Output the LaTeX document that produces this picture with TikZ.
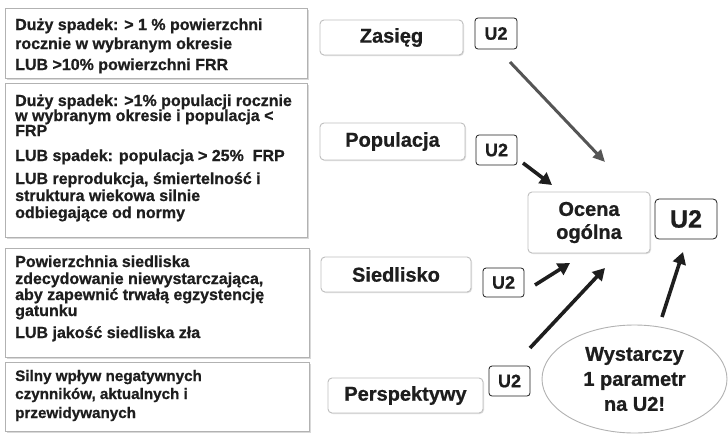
\documentclass[tikz,border=0pt]{standalone}
\usepackage{fontspec}
\setmainfont{Liberation Sans}[BoldFeatures={FakeBold=0.8}]
\usetikzlibrary{arrows.meta,shapes.geometric,shadows}
\definecolor{txt}{HTML}{1E1E1E}
\definecolor{garr}{HTML}{555555}
\begin{document}
\begin{tikzpicture}[x=1pt,y=-1pt,
 lbox/.style={draw=gray!60, line width=0.9pt, fill=white, inner sep=0pt, anchor=north west,
   drop shadow={shadow xshift=1.2pt, shadow yshift=-1.2pt, fill=gray!30, opacity=1}},
 ltxt/.style={anchor=base west, inner sep=0pt, text=txt, font=\bfseries\fontsize{16}{16}\selectfont},
 ltxtb/.style={ltxt, font=\bfseries\fontsize{15.2}{15.2}\selectfont},
 mbox/.style={draw=gray!50, line width=0.9pt, rounded corners=4pt, fill=white, inner sep=0pt,
   text=txt, font=\bfseries\fontsize{20}{20}\selectfont,
   drop shadow={shadow xshift=1pt, shadow yshift=-1pt, fill=gray!25, opacity=1}},
 ubox/.style={draw=txt, line width=0.8pt, rounded corners=3pt, fill=white, text=txt,
   font=\bfseries\fontsize{18}{18}\selectfont, inner sep=0pt, minimum width=41pt, minimum height=30pt},
 barrow/.style={draw=txt, line width=3.6pt, -{Triangle[length=12pt,width=13pt]}},
 garrow/.style={draw=garr, line width=3pt, -{Triangle[length=12pt,width=11pt]}},
]
\useasboundingbox[fill=white] (0,0) rectangle (728,434);

% left boxes
\node[lbox, minimum width=302pt, minimum height=70pt] (box1) at (5,8) {};
\node[lbox, minimum width=302pt, minimum height=154pt] (box2) at (5,83) {};
\node[lbox, minimum width=304pt, minimum height=109pt] (box3) at (5,248) {};
\node[lbox, minimum width=304pt, minimum height=69pt] (box4) at (5,362) {};

\node[ltxt] (t11) at (15,30) {Duży spadek: > 1 \% powierzchni};
\node[ltxt] (t12) at (15,49) {rocznie w wybranym okresie};
\node[ltxt] (t13) at (15,70) {LUB >10\% powierzchni FRR};

\node[ltxt] (t21) at (15,106) {Duży spadek: >1\% populacji rocznie};
\node[ltxt] (t22) at (15,121) {w wybranym okresie i populacja <};
\node[ltxt] (t23) at (15,136) {FRP};
\node[ltxt] (t24) at (15,161) {LUB spadek: populacja > 25\%~ FRP};
\node[ltxt] (t25) at (15,184) {LUB reprodukcja, śmiertelność i};
\node[ltxt] (t26) at (15,201) {struktura wiekowa silnie};
\node[ltxt] (t27) at (15,218) {odbiegające od normy};

\node[ltxt] (t31) at (15,267) {Powierzchnia siedliska};
\node[ltxt] (t32) at (15,284) {zdecydowanie niewystarczająca,};
\node[ltxt] (t33) at (15,300) {aby zapewnić trwałą egzystencję};
\node[ltxt] (t34) at (15,316) {gatunku};
\node[ltxt] (t35) at (15,338) {LUB jakość siedliska zła};

\node[ltxtb] (t41) at (15,381) {Silny wpływ negatywnych};
\node[ltxtb] (t42) at (15,399) {czynników, aktualnych i};
\node[ltxtb] (t43) at (15,418) {przewidywanych};

% middle boxes
\node[mbox, minimum width=143pt, minimum height=35pt] (zas) at (391.5,37.5) {Zasięg};
\node[mbox, minimum width=145pt, minimum height=37pt] (pop) at (392.5,141.5) {Populacja};
\node[mbox, minimum width=150pt, minimum height=35pt] (sie) at (396,274.5) {Siedlisko};
\node[mbox, minimum width=155pt, minimum height=35pt] (per) at (405.5,395.5) {Perspektywy};

% U2 small boxes
\node[ubox, minimum width=42pt, minimum height=31pt] (uz) at (496,33.5) {U2};
\node[ubox] (up) at (496.5,150) {U2};
\node[ubox, minimum height=29pt] (us) at (503.5,282.5) {U2};
\node[ubox] (upe) at (509.5,381) {U2};

% overall
\node[mbox, minimum width=122pt, minimum height=61pt, align=center,
      font=\bfseries\fontsize{20}{23}\selectfont] (oc) at (589,222.5) {Ocena\\ogólna};
\node[ubox, minimum width=62pt, minimum height=40pt, rounded corners=4pt,
      font=\bfseries\fontsize{25}{25}\selectfont] (ub) at (686,219) {U2};

\node[ellipse, draw=gray!60, line width=0.9pt, fill=white, minimum width=185pt, minimum height=108pt,
      inner sep=0pt, align=center, text=txt, font=\bfseries\fontsize{20}{25}\selectfont] (el) at (634.5,379)
      {Wystarczy\\1 parametr\\na U2!};

% arrows
\coordinate (a1s) at (510,62);  \coordinate (a1e) at (605,162);
\coordinate (a2s) at (523,163); \coordinate (a2e) at (552,185);
\coordinate (a3s) at (535,285); \coordinate (a3e) at (570,263);
\coordinate (a4s) at (530,348); \coordinate (a4e) at (605,268);
\coordinate (a5s) at (662,317); \coordinate (a5e) at (683,252);
\draw[garrow] (a1s) -- (a1e);
\draw[barrow] (a2s) -- (a2e);
\draw[barrow] (a3s) -- (a3e);
\draw[barrow] (a4s) -- (a4e);
\draw[barrow] (a5s) -- (a5e);
\end{tikzpicture}
\end{document}
